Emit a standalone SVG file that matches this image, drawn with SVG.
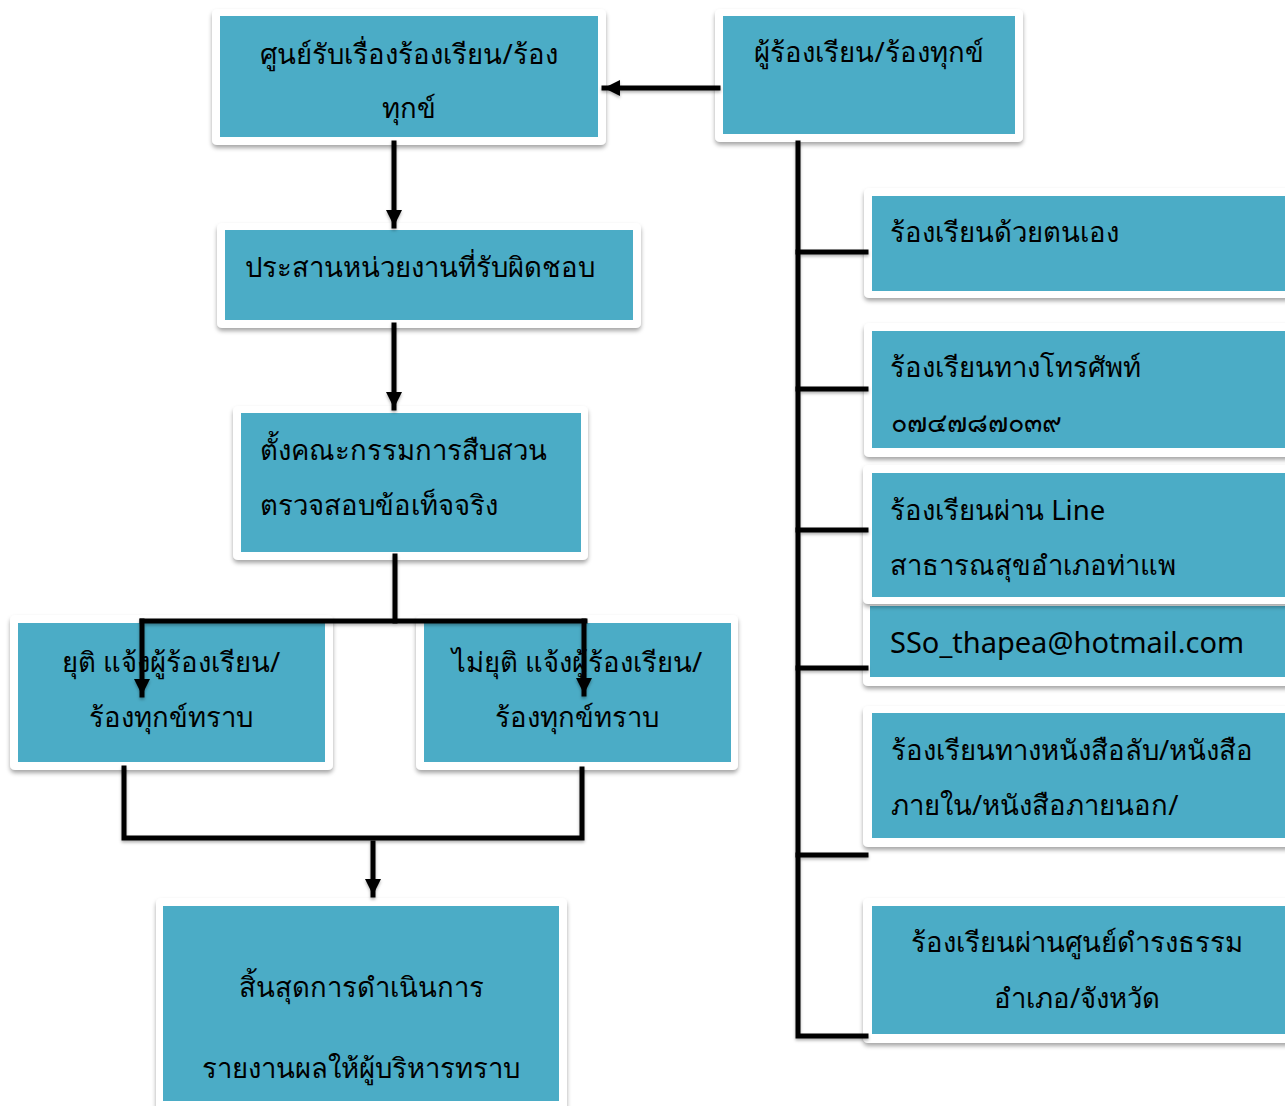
<svg xmlns="http://www.w3.org/2000/svg" width="1285" height="1106" viewBox="0 0 1285 1106">
<style>
.frame{fill:#ffffff;filter:url(#sh)}
.box{fill:#4BACC6}
.t{font-family:"Noto Sans","DejaVu Sans",sans-serif;font-size:27.5px;fill:#000}
.c{text-anchor:middle}
.ln{stroke:#000;stroke-width:5;fill:none;stroke-linecap:square}
</style>
<defs>
<filter id="sh" x="-10%" y="-10%" width="120%" height="130%">
<feDropShadow dx="0" dy="3" stdDeviation="2" flood-color="#000" flood-opacity="0.35"/>
</filter>
<filter id="lsh" x="-10%" y="-10%" width="120%" height="130%">
<feDropShadow dx="0" dy="2" stdDeviation="1.5" flood-color="#000" flood-opacity="0.3"/>
</filter>
<marker id="ah" markerUnits="userSpaceOnUse" markerWidth="18" markerHeight="18" viewBox="0 0 18 18" refX="16" refY="9" orient="auto">
<path d="M0,1 L16,9 L0,17 Z" fill="#000"/>
</marker>
</defs>

<g id="n-center">
<rect class="frame" x="212" y="9" width="394" height="136" rx="5"/>
<rect class="box" x="220" y="16" width="378" height="121"/>
<text class="t c" x="409" y="64">ศูนย์รับเรื่องร้องเรียน/ร้อง</text>
<text class="t c" x="409" y="118">ทุกข์</text>
</g>

<g id="n-complainant">
<rect class="frame" x="715" y="9" width="308" height="133" rx="5"/>
<rect class="box" x="723" y="16" width="292" height="118"/>
<text class="t c" x="869" y="62">ผู้ร้องเรียน/ร้องทุกข์</text>
</g>

<g id="n-coordinate">
<rect class="frame" x="217" y="223" width="424" height="105" rx="5"/>
<rect class="box" x="225" y="230" width="408" height="90"/>
<text class="t" x="245" y="277">ประสานหน่วยงานที่รับผิดชอบ</text>
</g>

<g id="n-committee">
<rect class="frame" x="233" y="406" width="355" height="154" rx="5"/>
<rect class="box" x="241" y="413" width="340" height="139"/>
<text class="t" x="260" y="460">ตั้งคณะกรรมการสืบสวน</text>
<text class="t" x="260" y="515">ตรวจสอบข้อเท็จจริง</text>
</g>

<g id="n-resolved">
<rect class="frame" x="10" y="615" width="323" height="155" rx="5"/>
<rect class="box" x="18" y="623" width="307" height="139"/>
<text class="t c" x="171" y="672">ยุติ แจ้งผู้ร้องเรียน/</text>
<text class="t c" x="171" y="727">ร้องทุกข์ทราบ</text>
</g>

<g id="n-unresolved">
<rect class="frame" x="416" y="615" width="322" height="155" rx="5"/>
<rect class="box" x="424" y="623" width="307" height="139"/>
<text class="t c" x="577" y="672">ไม่ยุติ แจ้งผู้ร้องเรียน/</text>
<text class="t c" x="577" y="727">ร้องทุกข์ทราบ</text>
</g>

<g id="n-end">
<rect class="frame" x="156" y="898" width="411" height="220" rx="5"/>
<rect class="box" x="163" y="906" width="396" height="195"/>
<text class="t c" x="361" y="997">สิ้นสุดการดำเนินการ</text>
<text class="t c" x="361" y="1078">รายงานผลให้ผู้บริหารทราบ</text>
</g>

<g id="n-self">
<rect class="frame" x="864" y="188" width="430" height="110" rx="5"/>
<rect class="box" x="872" y="196" width="420" height="95"/>
<text class="t" x="890" y="242">ร้องเรียนด้วยตนเอง</text>
</g>

<g id="n-phone">
<rect class="frame" x="864" y="323" width="430" height="134" rx="5"/>
<rect class="box" x="872" y="331" width="420" height="117"/>
<text class="t" x="890" y="377">ร้องเรียนทางโทรศัพท์</text>
<text class="t" x="891" y="432" style="font-size:27px">๐๗๔๗๘๗๐๓๙</text>
</g>

<g id="n-email">
<rect class="frame" x="863" y="598" width="430" height="88" rx="5"/>
<rect class="box" x="870" y="606" width="420" height="71"/>
<text class="t" x="890" y="653" style="font-size:29px">SSo_thapea@hotmail.com</text>
</g>

<g id="n-line">
<rect class="frame" x="863" y="465" width="430" height="139" rx="5"/>
<rect class="box" x="872" y="473" width="420" height="124"/>
<text class="t" x="890" y="520">ร้องเรียนผ่าน Line</text>
<text class="t" x="890" y="575">สาธารณสุขอำเภอท่าแพ</text>
</g>

<g id="n-letter">
<rect class="frame" x="863" y="706" width="430" height="141" rx="5"/>
<rect class="box" x="872" y="713" width="420" height="125"/>
<text class="t" x="891" y="760">ร้องเรียนทางหนังสือลับ/หนังสือ</text>
<text class="t" x="891" y="815">ภายใน/หนังสือภายนอก/</text>
</g>

<g id="n-damrongdham">
<rect class="frame" x="863" y="898" width="430" height="145" rx="5"/>
<rect class="box" x="872" y="906" width="420" height="128"/>
<text class="t c" x="1077" y="952">ร้องเรียนผ่านศูนย์ดำรงธรรม</text>
<text class="t c" x="1077" y="1008">อำเภอ/จังหวัด</text>
</g>

<g id="connectors" filter="url(#lsh)">
<line class="ln" x1="718" y1="88" x2="604" y2="88" stroke-linecap="butt" marker-end="url(#ah)"/>
<line class="ln" x1="394" y1="143" x2="394" y2="226" stroke-width="4" stroke-linecap="butt" marker-end="url(#ah)"/>
<line class="ln" x1="394" y1="325" x2="394" y2="408" stroke-width="4" stroke-linecap="butt" marker-end="url(#ah)"/>
<polyline class="ln" points="395,556 395,621"/>
<polyline class="ln" points="142,621 585,621"/>
<line class="ln" x1="142" y1="621" x2="142" y2="695" stroke-width="4" stroke-linecap="butt" marker-end="url(#ah)"/>
<line class="ln" x1="584" y1="621" x2="584" y2="694" stroke-width="4" stroke-linecap="butt" marker-end="url(#ah)"/>
<polyline class="ln" points="124,768 124,838 582,838 582,769"/>
<line class="ln" x1="373" y1="843" x2="373" y2="895" stroke-width="4" stroke-linecap="butt" marker-end="url(#ah)"/>
<polyline class="ln" points="798,143 798,1036 866,1036"/>
<line class="ln" x1="798" y1="252" x2="866" y2="252"/>
<line class="ln" x1="798" y1="389" x2="866" y2="389"/>
<line class="ln" x1="798" y1="530" x2="866" y2="530"/>
<line class="ln" x1="798" y1="668" x2="866" y2="668"/>
<line class="ln" x1="798" y1="855" x2="866" y2="855"/>
</g>
</svg>
